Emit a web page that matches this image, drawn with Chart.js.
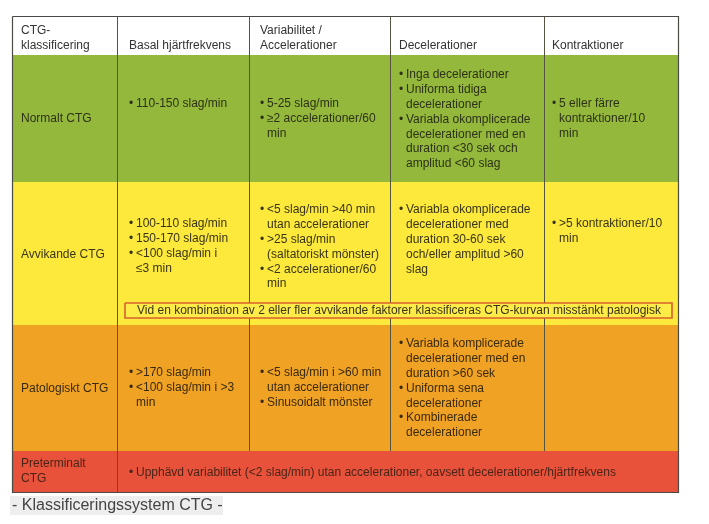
<!DOCTYPE html>
<html>
<head>
<meta charset="utf-8">
<script src="https://cdn.jsdelivr.net/npm/chart.js@4"></script>
<style>
  body { margin: 0; background: #fff; }
  canvas { display: block; }
</style>
</head>
<body>
<canvas id="ctg" width="709" height="524"></canvas>
<script>
// column headings
const headers = [
  ['CTG-', 'klassificering'],
  ['Basal hjärtfrekvens'],
  ['Variabilitet /', 'Accelerationer'],
  ['Decelerationer'],
  ['Kontraktioner']
]

const classes = [
  ['Normalt CTG'],
  ['Avvikande CTG'],
  ['Patologiskt CTG'],
  ['Preterminalt', 'CTG']
]

// bullet items per row, each item split into the lines it is printed on
const basal = [
  [['110-150 slag/min']],
  [['100-110 slag/min'], ['150-170 slag/min'], ['<100 slag/min i', '≤3 min']],
  [['>170 slag/min'], ['<100 slag/min i >3', 'min']]
]
const variabilitet = [
  [['5-25 slag/min'], ['≥2 accelerationer/60', 'min']],
  [['<5 slag/min >40 min', 'utan accelerationer'], ['>25 slag/min', '(saltatoriskt mönster)'], ['<2 accelerationer/60', 'min']],
  [['<5 slag/min i >60 min', 'utan accelerationer'], ['Sinusoidalt mönster']]
]
const decelerationer = [
  [['Inga decelerationer'], ['Uniforma tidiga', 'decelerationer'], ['Variabla okomplicerade', 'decelerationer med en', 'duration <30 sek och', 'amplitud <60 slag']],
  [['Variabla okomplicerade', 'decelerationer med', 'duration 30-60 sek', 'och/eller amplitud >60', 'slag']],
  [['Variabla komplicerade', 'decelerationer med en', 'duration >60 sek'], ['Uniforma sena', 'decelerationer'], ['Kombinerade', 'decelerationer']]
]
const kontraktioner = [
  [['5 eller färre', 'kontraktioner/10', 'min']],
  [['>5 kontraktioner/10', 'min']],
  []
]
const preterminal = [['Upphävd variabilitet (<2 slag/min) utan accelerationer, oavsett decelerationer/hjärtfrekvens']]
const note = 'Vid en kombination av 2 eller fler avvikande faktorer klassificeras CTG-kurvan misstänkt patologisk'
const caption = '- Klassificeringssystem CTG -'

// layout (page units, y downwards)
const colEdges = [12, 117, 249, 390, 544, 679]
const rowEdges = [16, 55, 182, 325, 451, 493]
const rowColors = ['#ffffff', '#94b83c', '#fce93c', '#f0a224', '#e8523a']
const textColors = ['#333333', '#2c3118', '#3a3518', '#3a2a10', '#4a2418']
const textX = [21, 129, 260, 399, 552]
const headerY = [31, 46, 31, 46, 46]
const firstY = [
  [119, 104, 104, 75, 104],
  [255, 224, 210, 210, 224],
  [389, 373, 373, 344, 0],
  [464, 473]
]
const noteBox = [125, 303, 672, 318]
const captionBox = [10, 496, 223, 515]
const lineH = 14.8

function rect(x0, y0, x1, y1) {
  return [{x: x0, y: y0}, {x: x1, y: y0}, {x: x1, y: y1}, {x: x0, y: y1}, {x: x0, y: y0}]
}

function segment(x0, y0, x1, y1) {
  return [{x: x0, y: y0}, {x: x1, y: y1}]
}

const datasets = []

// row backgrounds
rowColors.forEach((c, i) => {
  datasets.push({
    data: rect(colEdges[0], rowEdges[i], colEdges[5], rowEdges[i + 1]),
    backgroundColor: c, borderColor: 'transparent', fill: 'shape', order: 5
  })
})

datasets.push({
  data: rect(...captionBox),
  backgroundColor: '#eeeeee', borderColor: 'transparent', fill: 'shape', order: 5
})

// column separators, the first one runs through the preterminal row too
for (let j = 1; j < colEdges.length - 1; j++) {
  const bottom = j === 1 ? rowEdges[5] : rowEdges[4]
  datasets.push({
    data: segment(colEdges[j] + 0.5, rowEdges[0], colEdges[j] + 0.5, bottom),
    borderColor: '#55553f', borderWidth: 1, fill: false, order: 3
  })
}

// outer frame
datasets.push({
  data: rect(colEdges[0] + 0.5, rowEdges[0] + 0.5, colEdges[5] - 0.5, rowEdges[5] - 0.5),
  borderColor: '#4a4a44', borderWidth: 1.2, fill: false, order: 2
})

// the red outlined note inside the Avvikande row
datasets.push({
  data: rect(...noteBox),
  backgroundColor: '#fdeb48', borderColor: '#d8602e', borderWidth: 1.6, fill: 'shape', order: 1
})

const tableText = {
  id: 'tableText',
  afterDatasetsDraw(chart) {
    const {ctx, scales: {x, y}} = chart
    const px = v => x.getPixelForValue(v)
    const py = v => y.getPixelForValue(v)

    ctx.save()
    ctx.font = '12px "Liberation Sans", Arial, sans-serif'
    ctx.textBaseline = 'middle'
    ctx.textAlign = 'left'

    const plain = (lines, tx, ty) => {
      lines.forEach((t, i) => ctx.fillText(t, px(tx), py(ty + i * lineH)))
    }
    const bullets = (items, tx, ty) => {
      let k = 0
      items.forEach(item => item.forEach((t, i) => {
        const yy = py(ty + k * lineH)
        if (i === 0) ctx.fillText('•', px(tx), yy)
        ctx.fillText(t, px(tx + 7), yy)
        k++
      }))
    }

    ctx.fillStyle = textColors[0]
    headers.forEach((h, c) => plain(h, textX[c], headerY[c]))

    const cols = [basal, variabilitet, decelerationer, kontraktioner]
    for (let r = 0; r < 3; r++) {
      ctx.fillStyle = textColors[r + 1]
      plain(classes[r], textX[0], firstY[r][0])
      cols.forEach((col, c) => bullets(col[r], textX[c + 1], firstY[r][c + 1]))
    }

    ctx.fillStyle = textColors[4]
    plain(classes[3], textX[0], firstY[3][0])
    bullets(preterminal, textX[1], firstY[3][1])

    ctx.fillStyle = '#3a3518'
    ctx.fillText(note, px(noteBox[0] + 12), py((noteBox[1] + noteBox[3]) / 2))

    ctx.fillStyle = '#444444'
    ctx.font = '16px "Liberation Sans", Arial, sans-serif'
    ctx.fillText(caption, px(captionBox[0] + 2), py((captionBox[1] + captionBox[3]) / 2))
    ctx.restore()
  }
}

new Chart(document.getElementById('ctg'), {
  type: 'line',
  data: { datasets },
  options: {
    responsive: false,
    animation: false,
    layout: { padding: 0 },
    elements: { point: { radius: 0, hoverRadius: 0 }, line: { tension: 0 } },
    plugins: { legend: { display: false }, tooltip: { enabled: false } },
    events: [],
    scales: {
      x: { type: 'linear', min: 0, max: 709, display: false },
      y: { type: 'linear', min: 0, max: 524, reverse: true, display: false }
    }
  },
  plugins: [tableText]
})
</script>
</body>
</html>
